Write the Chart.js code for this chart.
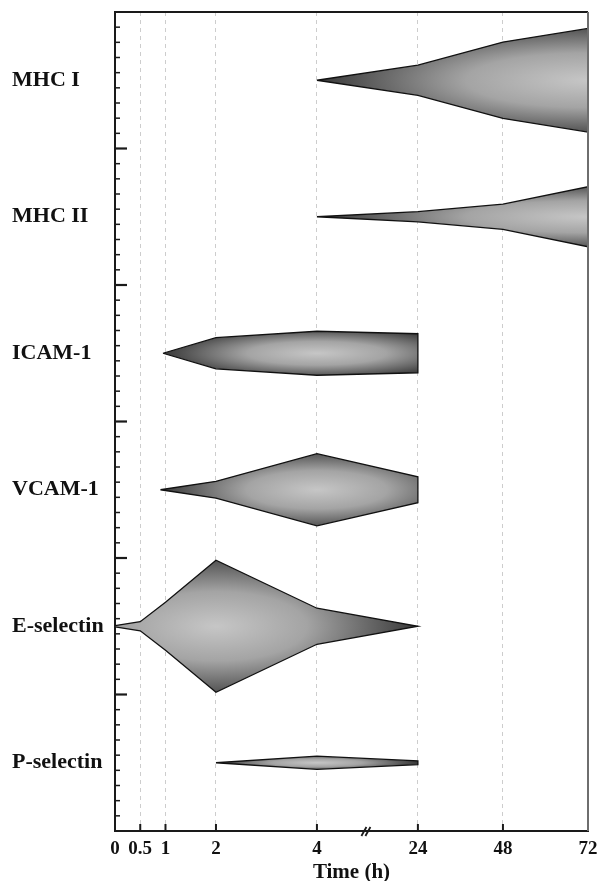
<!DOCTYPE html>
<html>
<head>
<meta charset="utf-8">
<script src="https://cdn.jsdelivr.net/npm/chart.js@4.4.1/dist/chart.umd.min.js"></script>
<style>
  html, body { margin: 0; padding: 0; background: #fff; }
  canvas { display: block; }
</style>
</head>
<body>
<canvas id="graphique" width="600" height="881"></canvas>
<script>
const molecules = ['MHC I', 'MHC II', 'ICAM-1', 'VCAM-1', 'E-selectin', 'P-selectin'];
const timeTicks = [0, 0.5, 1, 2, 4, 24, 48, 72];

const mhc1Times = [4, 24, 48, 72];
const mhc1Level = [0, 0.11, 0.28, 0.38];
const mhc2Times = [4, 24, 48, 72];
const mhc2Level = [0, 0.037, 0.092, 0.22];
const icamTimes = [0.95, 2, 4, 24];
const icamLevel = [0, 0.114, 0.161, 0.143];
const vcamTimes = [0.9, 2, 4, 24];
const vcamLevel = [0, 0.062, 0.264, 0.095];
const eselTimes = [0, 0.5, 1, 2, 4, 24];
const eselLevel = [0.005, 0.033, 0.176, 0.484, 0.132, 0];
const pselTimes = [2, 4, 24];
const pselLevel = [0, 0.048, 0.013];

const bands = [
  {row: 0, times: mhc1Times, level: mhc1Level},
  {row: 1, times: mhc2Times, level: mhc2Level},
  {row: 2, times: icamTimes, level: icamLevel},
  {row: 3, times: vcamTimes, level: vcamLevel},
  {row: 4, times: eselTimes, level: eselLevel},
  {row: 5, times: pselTimes, level: pselLevel}
];

// broken time axis: 0-4 h linear, 4-24 h squeezed, then 24-72 h
function pos(t) {
  if (t <= 4) return t;
  if (t <= 24) return 4 + (t - 4) / 10;
  return 6 + (t - 24) * 0.0702;
}

function spindle(band) {
  const c = band.row + 0.5;
  const upper = band.times.map((t, i) => ({x: pos(t), y: c - band.level[i]}));
  const lower = band.times.map((t, i) => ({x: pos(t), y: c + band.level[i]})).reverse();
  return upper.concat(lower, [upper[0]]);
}

const shadeCache = {};
function shade(context) {
  const chart = context.chart;
  const xs = chart.scales && chart.scales.x;
  const ys = chart.scales && chart.scales.y;
  if (!chart.chartArea || !xs || !ys) return '#999';
  const band = bands[context.datasetIndex];
  const key = context.datasetIndex + ':' + chart.width + 'x' + chart.height;
  if (shadeCache[key]) return shadeCache[key];

  const k = band.level.indexOf(Math.max(...band.level));
  const cx = xs.getPixelForValue(pos(band.times[k]));
  const cy = ys.getPixelForValue(band.row + 0.5);
  const x0 = xs.getPixelForValue(pos(band.times[0]));
  const x1 = xs.getPixelForValue(pos(band.times[band.times.length - 1]));
  const rx = Math.max(cx - x0, x1 - cx, 10);
  const ry = Math.abs(ys.getPixelForValue(band.row + 0.5 + band.level[k]) - cy) * 1.15 + 1;

  const off = document.createElement('canvas');
  off.width = chart.width;
  off.height = chart.height;
  const o = off.getContext('2d');
  o.translate(cx, cy);
  o.scale(rx, ry);
  const g = o.createRadialGradient(0, 0, 0, 0, 0, 1);
  g.addColorStop(0, '#c6c6c6');
  g.addColorStop(0.45, '#a4a4a4');
  g.addColorStop(1, '#383838');
  o.fillStyle = g;
  o.fillRect(-50, -50, 100, 100);

  const p = chart.ctx.createPattern(off, 'no-repeat');
  shadeCache[key] = p;
  return p;
}

const axisMarks = {
  id: 'axisMarks',
  afterDraw(chart) {
    const {ctx, chartArea: a, scales: {x, y}} = chart;
    ctx.save();
    // top and right of the frame
    ctx.lineWidth = 2;
    ctx.strokeStyle = '#1a1a1a';
    ctx.beginPath();
    ctx.moveTo(a.left, a.top);
    ctx.lineTo(a.right, a.top);
    ctx.stroke();
    ctx.strokeStyle = '#6e6e6e';
    ctx.beginPath();
    ctx.moveTo(a.right, a.top);
    ctx.lineTo(a.right, a.bottom);
    ctx.stroke();

    // inward ticks on the left axis, 9 per row
    ctx.strokeStyle = '#1a1a1a';
    for (let k = 1; k < molecules.length * 9; k++) {
      const py = y.getPixelForValue(k / 9);
      const major = k % 9 === 0;
      ctx.lineWidth = major ? 2.2 : 1.5;
      ctx.beginPath();
      ctx.moveTo(a.left, py);
      ctx.lineTo(a.left + (major ? 12 : 5), py);
      ctx.stroke();
    }

    // inward ticks on the time axis
    ctx.lineWidth = 2;
    timeTicks.slice(1, -1).forEach(t => {
      const px = x.getPixelForValue(pos(t));
      ctx.beginPath();
      ctx.moveTo(px, a.bottom);
      ctx.lineTo(px, a.bottom - 7);
      ctx.stroke();
    });

    // axis break between 4 h and 24 h
    const bx = x.getPixelForValue((pos(4) + pos(24)) / 2);
    ctx.lineWidth = 1.8;
    [-2, 2].forEach(d => {
      ctx.beginPath();
      ctx.moveTo(bx + d - 4, a.bottom + 5);
      ctx.lineTo(bx + d + 1, a.bottom - 4);
      ctx.stroke();
    });
    ctx.restore();
  }
};

const serif = "'Liberation Serif', 'Times New Roman', serif";

new Chart(document.getElementById('graphique'), {
  type: 'scatter',
  data: {
    datasets: bands.map((b, i) => ({
      label: molecules[i],
      data: spindle(b),
      showLine: true,
      fill: 'shape',
      tension: 0,
      pointRadius: 0,
      borderColor: '#111',
      borderWidth: 1.3,
      backgroundColor: shade
    }))
  },
  options: {
    responsive: false,
    animation: false,
    layout: {padding: {left: 12, right: 12, top: 12, bottom: 0}},
    plugins: {
      legend: {display: false},
      tooltip: {enabled: false}
    },
    scales: {
      x: {
        type: 'linear',
        min: 0,
        max: pos(72),
        afterBuildTicks: s => { s.ticks = timeTicks.map(t => ({value: pos(t)})); },
        afterFit: s => { s.height = 50; },
        ticks: {
          autoSkip: false,
          maxRotation: 0,
          padding: 0,
          color: '#111',
          font: {family: serif, size: 19, weight: 'bold'},
          callback: (v, i) => String(timeTicks[i])
        },
        grid: {
          drawTicks: true,
          tickLength: 7,
          tickColor: 'rgba(0,0,0,0)',
          lineWidth: 1,
          color: c => (c.index === 0 || c.index === timeTicks.length - 1) ? 'rgba(0,0,0,0)' : '#cdcdcd'
        },
        border: {color: '#1a1a1a', width: 2, dash: [4, 4]},
        title: {
          display: true,
          text: 'Time (h)',
          color: '#111',
          font: {family: serif, size: 21, weight: 'bold', lineHeight: 0.82},
          padding: {top: 0, bottom: 0}
        }
      },
      y: {
        type: 'linear',
        min: 0,
        max: molecules.length,
        reverse: true,
        afterBuildTicks: s => { s.ticks = molecules.map((m, i) => ({value: i + 0.5})); },
        afterFit: s => { s.width = 103; },
        ticks: {
          crossAlign: 'far',
          padding: 0,
          color: '#111',
          font: {family: serif, size: 22, weight: 'bold', lineHeight: 1},
          callback: (v, i) => molecules[i]
        },
        grid: {display: false},
        border: {color: '#1a1a1a', width: 2}
      }
    }
  },
  plugins: [axisMarks]
});
</script>
</body>
</html>
